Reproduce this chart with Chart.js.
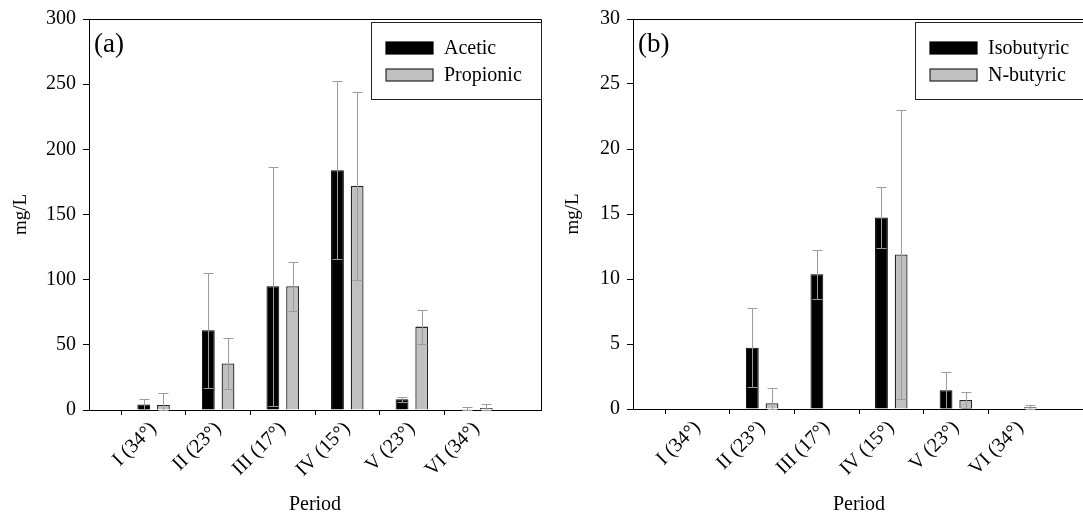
<!DOCTYPE html>
<html>
<head>
<meta charset="utf-8">
<script src="https://cdn.jsdelivr.net/npm/chart.js@4.4.0/dist/chart.umd.min.js"></script>
<style>
  html, body { margin: 0; padding: 0; background: #fff; overflow: hidden; }
  #figure { position: relative; width: 1083px; height: 518px; overflow: hidden; }
  #figure canvas { position: absolute; top: 0; }
  #chartA { left: 0; }
  #chartB { left: 544px; }
</style>
</head>
<body>
<div id="figure">
  <canvas id="chartA" width="560" height="518"></canvas>
  <canvas id="chartB" width="560" height="518"></canvas>
</div>
<script>
const periods = ['I (34°)', 'II (23°)', 'III (17°)', 'IV (15°)', 'V (23°)', 'VI (34°)'];

// (a) acetic / propionic acid, mg/L, mean and SD
const acetic = [4.3, 61.2, 94.9, 183.9, 8.2, 0.6];
const aceticSd = [3.9, 44.2, 91.8, 68.2, 1.8, 2.0];
const propionic = [3.8, 35.7, 94.9, 172.0, 64.0, 1.5];
const propionicSd = [9.5, 19.8, 18.7, 72.0, 13.0, 3.3];
const ticksA = [0, 50, 100, 150, 200, 250, 300];

// (b) isobutyric / n-butyric acid
const isobutyric = [0, 4.71, 10.36, 14.73, 1.45, 0];
const isobutyricSd = [0, 3.03, 1.86, 2.35, 1.40, 0];
const nbutyric = [0, 0.44, 0, 11.89, 0.69, 0.13];
const nbutyricSd = [0, 1.14, 0, 11.13, 0.63, 0.2];
const ticksB = [0, 5, 10, 15, 20, 25, 30];

const FONT = '"Liberation Serif", "Times New Roman", serif';
Chart.defaults.font.family = FONT;
Chart.defaults.color = '#000';

// empty slot at each end of the period axis
const pad = arr => [null, ...arr, null];

const errorBars = {
  id: 'errorBars',
  afterDatasetsDraw(chart) {
    const ctx = chart.ctx, y = chart.scales.y;
    ctx.save();
    ctx.strokeStyle = '#9c9c9c';
    ctx.lineWidth = 1;
    chart.data.datasets.forEach((ds, di) => {
      chart.getDatasetMeta(di).data.forEach((bar, i) => {
        const v = ds.data[i], e = ds.sd[i];
        if (v == null || !e) return;
        const x = Math.round(bar.x) + 0.5;
        const yTop = Math.round(y.getPixelForValue(v + e)) + 0.5;
        const yBot = Math.round(y.getPixelForValue(Math.max(v - e, 0))) + 0.5;
        ctx.beginPath();
        ctx.moveTo(x, yTop); ctx.lineTo(x, yBot);
        ctx.moveTo(x - 5, yTop); ctx.lineTo(x + 5, yTop);
        ctx.moveTo(x - 5, yBot); ctx.lineTo(x + 5, yBot);
        ctx.stroke();
      });
    });
    ctx.restore();
  }
};

// frame, panel letter and boxed legend inside the plot
const panelDecor = {
  id: 'panelDecor',
  afterDraw(chart, args, opts) {
    const ctx = chart.ctx, a = chart.chartArea;
    ctx.save();
    ctx.strokeStyle = '#000';
    ctx.lineWidth = 1;
    ctx.beginPath();
    ctx.moveTo(a.left, Math.round(a.top) + 0.5);
    ctx.lineTo(Math.round(a.right) + 0.5, Math.round(a.top) + 0.5);
    ctx.lineTo(Math.round(a.right) + 0.5, a.bottom);
    ctx.stroke();

    ctx.fillStyle = '#000';
    ctx.textBaseline = 'middle';
    ctx.font = '27px ' + FONT;
    ctx.fillText(opts.letter, a.left + 5, a.top + 26);

    const bx = Math.round(a.left) + 282, by = Math.round(a.top) + 3, bw = 170, bh = 77;
    ctx.strokeStyle = '#222';
    ctx.strokeRect(bx + 0.5, by + 0.5, bw, bh);
    ctx.font = '20px ' + FONT;
    chart.data.datasets.forEach((ds, i) => {
      const sy = by + 20 + i * 27;
      ctx.fillStyle = ds.backgroundColor;
      ctx.fillRect(bx + 15, sy, 47, 12);
      ctx.strokeStyle = ds.borderColor;
      ctx.lineWidth = 1.2;
      ctx.strokeRect(bx + 15, sy, 47, 12);
      ctx.fillStyle = '#000';
      ctx.fillText(ds.label, bx + 73, sy + 6.5);
    });
    ctx.restore();
  }
};

function buildChart(id, cfg) {
  const lastTick = cfg.ticks.length - 1;
  return new Chart(document.getElementById(id), {
    type: 'bar',
    data: {
      labels: ['', ...periods, ''],
      datasets: [
        { label: cfg.names[0], data: pad(cfg.values[0]), sd: pad(cfg.sds[0]),
          backgroundColor: '#000', borderColor: '#000', borderWidth: 1,
          categoryPercentage: 0.61, barPercentage: 0.65 },
        { label: cfg.names[1], data: pad(cfg.values[1]), sd: pad(cfg.sds[1]),
          backgroundColor: '#c0c0c0', borderColor: '#262626', borderWidth: 1.3,
          categoryPercentage: 0.61, barPercentage: 0.65 }
      ]
    },
    options: {
      responsive: false,
      animation: false,
      layout: { padding: { top: cfg.top, right: 13, left: 0, bottom: 0 } },
      plugins: {
        legend: { display: false },
        tooltip: { enabled: false },
        panelDecor: { letter: cfg.letter }
      },
      scales: {
        x: {
          offset: false,
          grid: {
            drawOnChartArea: false, tickLength: 5, lineWidth: 1,
            tickColor: c => (c.index === 0 || c.index === periods.length + 1) ? 'rgba(0,0,0,0)' : '#000'
          },
          border: { color: '#000', width: 1 },
          ticks: { autoSkip: false, maxRotation: 45, minRotation: 45, font: { size: 20 }, padding: 2 },
          title: { display: true, text: 'Period', font: { size: 20 }, padding: { top: 0, bottom: 1 } },
          afterFit: s => { s.height = cfg.xHeight; }
        },
        y: {
          min: cfg.ticks[0],
          max: cfg.ticks[lastTick],
          afterBuildTicks: s => { s.ticks = cfg.ticks.map(v => ({ value: v })); },
          grid: { drawOnChartArea: false, tickLength: 6, tickColor: '#000' },
          border: { color: '#000', width: 1 },
          ticks: { font: { size: 20 }, padding: 7 },
          title: { display: true, text: 'mg/L', font: { size: 19 }, padding: { top: cfg.titlePad, bottom: 0 } },
          afterFit: s => { s.width = 89; }
        }
      }
    },
    plugins: [errorBars, panelDecor]
  });
}

buildChart('chartA', {
  letter: '(a)', names: ['Acetic', 'Propionic'],
  values: [acetic, propionic], sds: [aceticSd, propionicSd],
  ticks: ticksA, top: 18, xHeight: 108, titlePad: 10
});
buildChart('chartB', {
  letter: '(b)', names: ['Isobutyric', 'N-butyric'],
  values: [isobutyric, nbutyric], sds: [isobutyricSd, nbutyricSd],
  ticks: ticksB, top: 16, xHeight: 109, titlePad: 18
});
</script>
</body>
</html>
